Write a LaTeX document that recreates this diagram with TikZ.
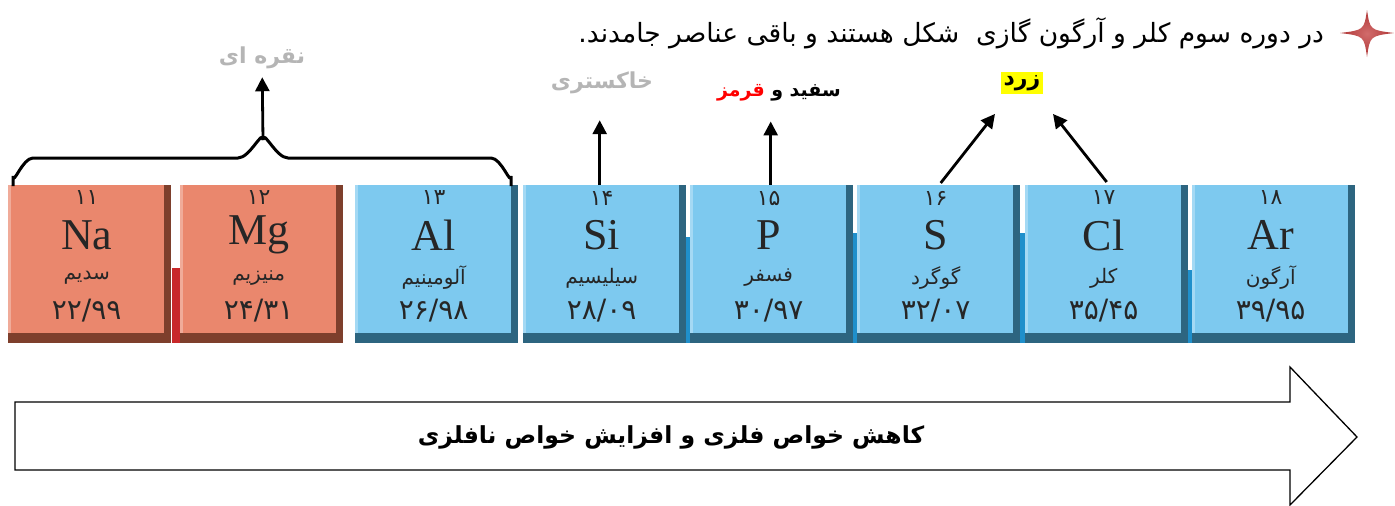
\documentclass[tikz,border=0pt]{standalone}
\usepackage{fontspec}
\setmainfont{Liberation Serif}
\newfontfamily\arabicfont[Script=Arabic]{DejaVu Sans}
\TeXXeTstate=1
\usetikzlibrary{arrows.meta, positioning}
\definecolor{metalred}{HTML}{EA876D}
\definecolor{metaldark}{HTML}{7E3F2C}
\definecolor{nonblue}{HTML}{7DC9EF}
\definecolor{nondark}{HTML}{2D6580}
\definecolor{stripblue}{HTML}{1F8FCB}
\definecolor{stripred}{HTML}{C8282A}
\definecolor{starred}{HTML}{C23A3A}
\definecolor{greytext}{HTML}{B5B5B5}
\definecolor{marker}{HTML}{FFFF00}

\begin{document}
\begin{tikzpicture}[x=1pt, y=-1pt, >={Triangle[length=14pt,width=14pt]},
			tile/.style={rectangle, minimum width=163pt, minimum height=158pt, inner sep=0pt, anchor=north west},
			tiletext/.style={text=black!85, inner sep=0pt},
			label/.style={font=\arabicfont\bfseries\fontsize{22}{24}\selectfont, inner sep=2pt},
			pointer/.style={->, line width=2.8pt}]
			
			\useasboundingbox (0,0) rectangle (1395,506);
			
			% Nuvaar haye beyne khane ha
			\fill[stripred] (172,268) rectangle (180,343);
			\foreach \a/\b/\t in {685/690/237, 853/857/233, 1018/1025/233, 1185/1192/270}
				\fill[stripblue] (\a,\t) rectangle (\b,343);
			
			% Khane haye jadval
			\foreach \x/\s/\n/\p/\m/\f/\c/\d in {
				8/Na/۱۱/سدیم/۲۲/۹۹/metalred/metaldark,
				180/Mg/۱۲/منیزیم/۲۴/۳۱/metalred/metaldark,
				355/Al/۱۳/آلومینیم/۲۶/۹۸/nonblue/nondark,
				523/Si/۱۴/سیلیسیم/۲۸/۰۹/nonblue/nondark,
				690/P/۱۵/فسفر/۳۰/۹۷/nonblue/nondark,
				857/S/۱۶/گوگرد/۳۲/۰۷/nonblue/nondark,
				1025/Cl/۱۷/کلر/۳۵/۴۵/nonblue/nondark,
				1192/Ar/۱۸/آرگون/۳۹/۹۵/nonblue/nondark}{
				\node[tile, fill=\d] (\s) at (\x,185) {};
				\fill[\c] (\s.north west) rectangle ([xshift=-7pt, yshift=10pt]\s.south east);
				\fill[\c!70!white] (\s.north west) rectangle ([xshift=3pt, yshift=10pt]\s.south west);
				\node[tiletext, font=\arabicfont\fontsize{22}{24}\selectfont] (\s-num) at ([xshift=-3pt, yshift=-13pt]\s.north) {\n};
				\node[tiletext, font=\fontsize{44}{44}\selectfont] (\s-sym) at ([xshift=-3pt, yshift=-50pt]\s.north) {\s};
				\node[tiletext, font=\arabicfont\fontsize{20}{22}\selectfont] (\s-name) at ([xshift=-3pt, yshift=-93pt]\s.north) {\beginR\p\endR};
				\node[tiletext, font=\arabicfont\fontsize{28}{30}\selectfont] (\s-mass) at ([xshift=-3pt, yshift=-126pt]\s.north) {\m/\f};
			}
			
			% Setare va jomle bala
			\shade[inner color=starred!75!white, outer color=starred!90!black] (1367,10) .. controls (1370,30) .. (1394,33) .. controls (1370,36) .. (1367,57) .. controls (1364,36) .. (1340,33) .. controls (1364,30) .. cycle;
			\node[anchor=east, inner sep=0pt, font=\arabicfont\fontsize{26.5}{30}\selectfont] (title) at (1324,33) {\beginR در دوره سوم کلر و آرگون گازی\ \ شکل هستند و باقی عناصر جامدند.\endR};
			
			% Rang ha
			\node[label, text=greytext] (silver) at (262,58) {\beginR نقره ای\endR};
			\node[label, text=greytext] (grey) at (602,83) {\beginR خاکستری\endR};
			\node[label, anchor=east, font=\arabicfont\bfseries\fontsize{19}{22}\selectfont] (white) at (843,93) {\beginR سفید و\endR};
			\node[label, text=red, font=\arabicfont\bfseries\fontsize{19}{22}\selectfont, left=2pt of white] (red) {\beginR قرمز\endR};
			\node[label, fill=marker, inner sep=3pt] (yellow) at (1022,83) {\beginR زرد\endR};
			
			% Akulad
			\coordinate (cusp) at (263,140);
			\draw[line width=3pt] (13,186) -- (13,176) to[out=-90,in=180] (33,158) -- (238,158) to[out=0,in=90] (cusp) to[out=90,in=180] (288,158) -- (491,158) to[out=0,in=-90] (511,176) -- (511,186);
			\draw[pointer, shorten >=6pt] (cusp) -- (silver);
			
			% Felesh ha
			\draw[pointer, shorten >=24pt] ([xshift=-5pt]Si.north) -- ([xshift=-5pt]Si.north |- grey.south);
			\draw[pointer, shorten >=18pt] ([xshift=-1pt]P.north) -- ([xshift=-1pt]P.north |- white.south);
			\draw[pointer] ([xshift=2pt, yshift=2pt]S.north) -- ([xshift=-27pt, yshift=-20pt]yellow.south);
			\draw[pointer] ([xshift=0pt, yshift=3pt]Cl.north) -- ([xshift=31pt, yshift=-20pt]yellow.south);
			
			% Felesh payin
			\draw[line width=1.3pt, fill=white] (15,402) -- (1290,402) -- (1290,367) -- (1357,437) -- (1290,505) -- (1290,470) -- (15,470) -- cycle;
			\node[font=\arabicfont\bfseries\fontsize{23.5}{26}\selectfont] (trend) at (671,437) {\beginR کاهش خواص فلزی و افزایش خواص نافلزی\endR};
			
		\end{tikzpicture}
\end{document}
